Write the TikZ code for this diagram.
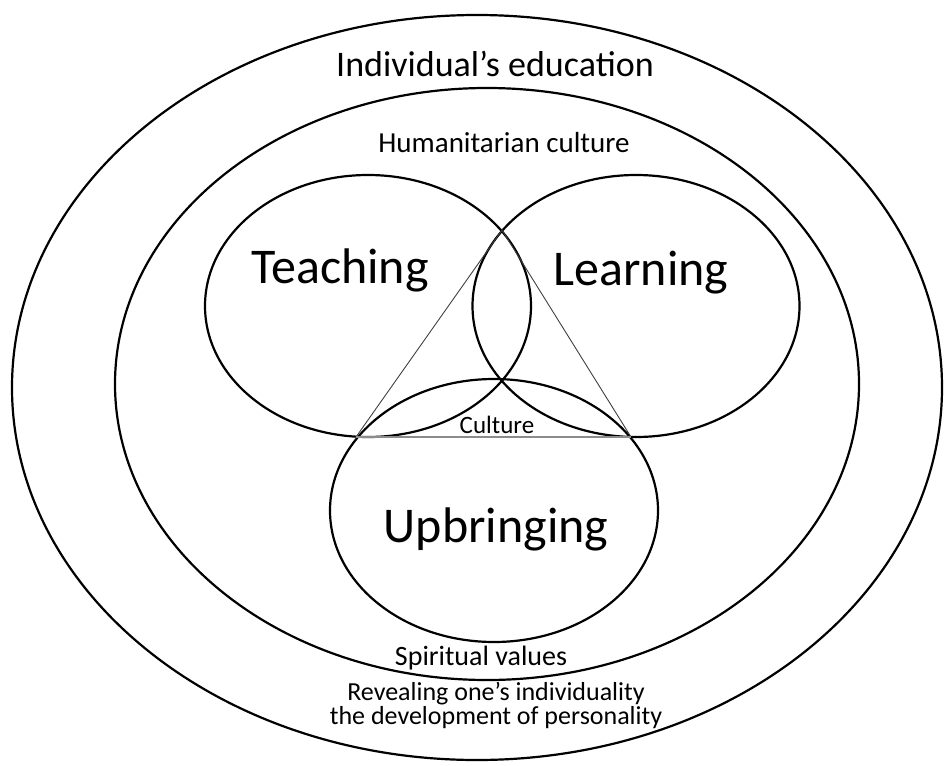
\documentclass[tikz,border=0pt]{standalone}
\usepackage{fontspec}
\setmainfont{Carlito}
\usetikzlibrary{shapes.geometric, positioning}
\tikzset{x=1pt, y=-1pt, % One unit is one pixel of the sketch, y running down
ring/.style={ % Sets the properties for each ellipse
draw, ellipse, line width=2.2pt, inner sep=0pt},
txt/.style={ % Text sits on its base line
anchor=base, inner sep=0pt},
triside/.style={ % Thin sides of the triangle
draw=black!75, line width=0.9pt},
tribase/.style={ % Base of the triangle
draw=black!45, line width=2pt}}
\newcommand{\fs}[1]{\fontsize{#1}{#1}\selectfont}

\begin{document}
\begin{tikzpicture}
    \useasboundingbox (0,0) rectangle (944,765);
    
    \node[ring, minimum width=930pt, minimum height=745pt] (edu) at (477,387.5) {};
    \node[ring, minimum width=744pt, minimum height=592pt] (hum) at (487,384) {};
    
    \node[ring, minimum width=326pt, minimum height=262pt] (teach) at (368,306) {};
    \node[ring, minimum width=327pt, minimum height=262pt] (learn) at (636,306) {};
    \node[ring, minimum width=328pt, minimum height=263pt] (up) at (494,510.5) {};
    
    \coordinate (apex) at (502,230);
    \coordinate (bl) at (356,437);
    \coordinate (br) at (631,437);
    \draw[triside] (bl) -- (apex) -- (br);
    \draw[tribase] (bl) -- (br);
    
    \node[txt] (tedu) at (495,77) {\fs{36}Individual’s education};
    \node[txt] (thum) at (504,152) {\fs{29}Humanitarian culture};
    \node[txt] (tteach) at (340,283) {\fs{50}Teaching};
    \node[txt] (tlearn) at (641,285) {\fs{50}Learning};
    \node[txt] (tup) at (496,542) {\fs{50}Upbringing};
    \node[txt] (tcult) at (497,433) {\fs{25}Culture};
    \node[txt] (tspir) at (481,665) {\fs{28}Spiritual values};
    \node[txt, align=center, font=\fontsize{26}{18}\selectfont] (trev) at (496,724)
      {Revealing one’s individuality\\the development of personality};
    
\end{tikzpicture}
\end{document}
